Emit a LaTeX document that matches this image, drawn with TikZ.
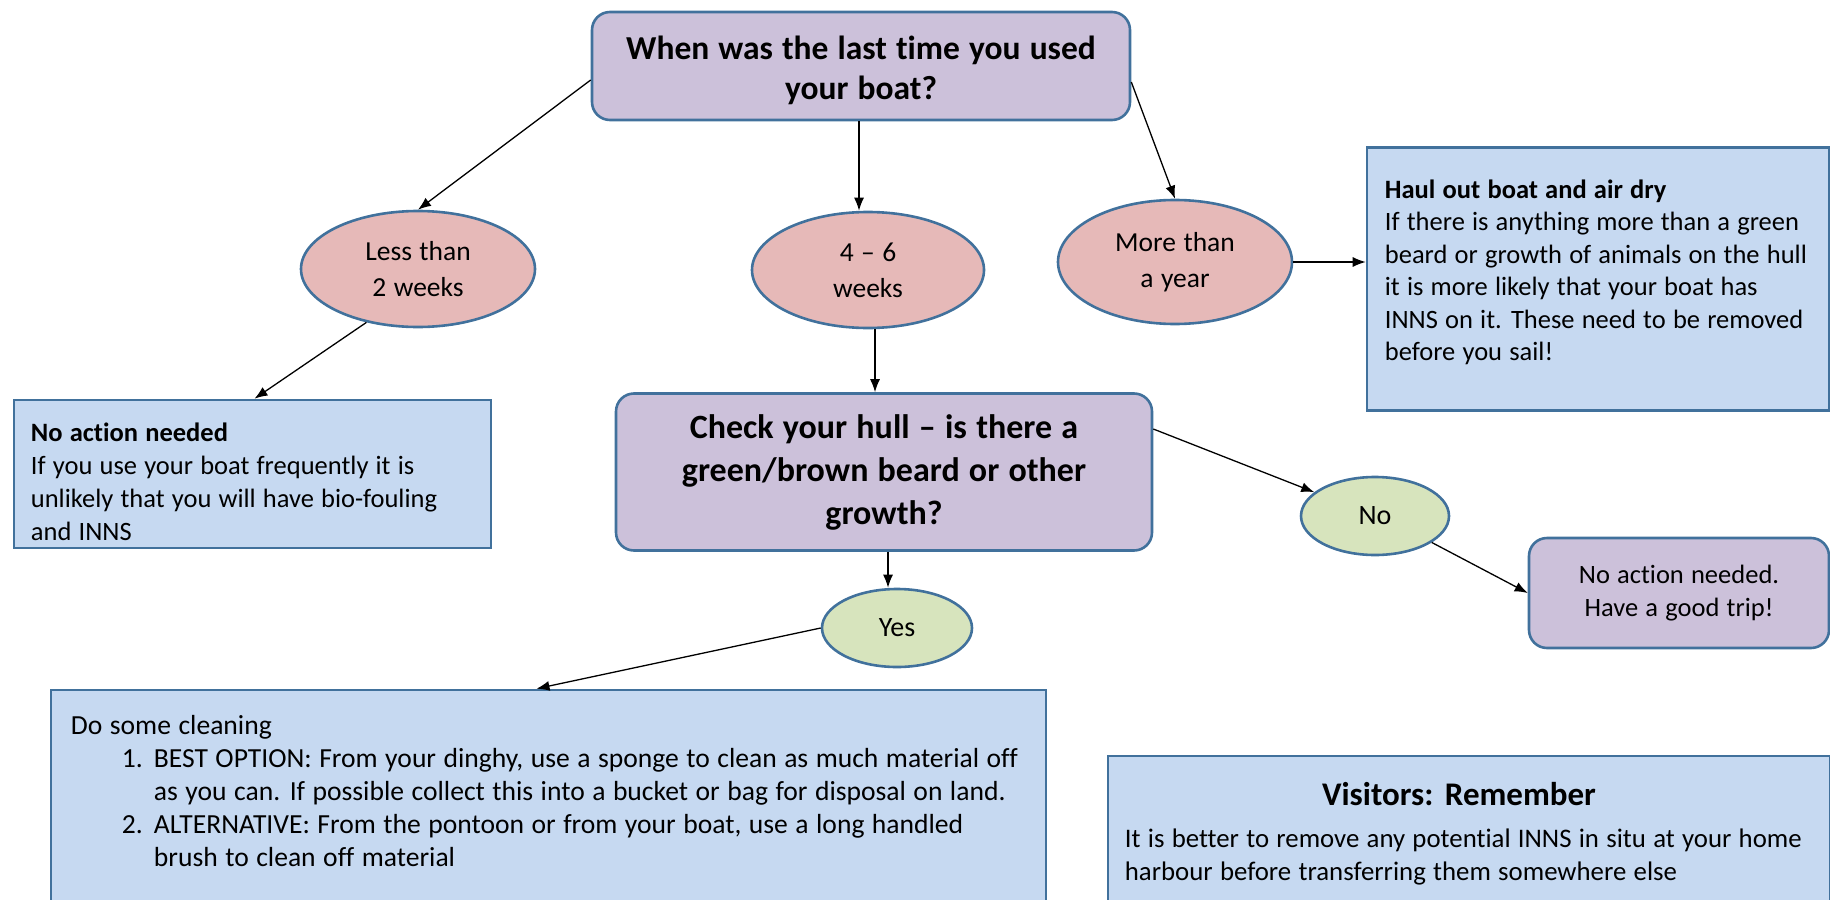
\documentclass[tikz,border=0pt]{standalone}
\usepackage{fontspec}
\setmainfont{Carlito}[Ligatures=NoCommon, WordSpace=1.2]
\usetikzlibrary{arrows.meta,shapes.geometric}
\definecolor{bordc}{HTML}{41719C}
\definecolor{purpf}{HTML}{CCC1DA}
\definecolor{pinkf}{HTML}{E6B9B8}
\definecolor{bluef}{HTML}{C6D9F1}
\definecolor{greenf}{HTML}{D7E4BD}
\tikzset{
  arr/.style={-{Latex[length=13pt,width=10pt]}, line width=1.3pt, black},
  pbox/.style={draw=bordc, line width=2.6pt, fill=purpf, rounded corners=18pt, inner sep=0pt},
  bbox/.style={draw=bordc, line width=2.6pt, fill=bluef, inner sep=0pt},
  pell/.style={ellipse, draw=bordc, line width=2.6pt, fill=pinkf, inner sep=0pt, align=center, font=\fontsize{27.5}{36}\selectfont},
  gell/.style={ellipse, draw=bordc, line width=2.6pt, fill=greenf, inner sep=0pt, align=center, font=\fontsize{28}{34}\selectfont},
  btxt/.style={inner sep=0pt, align=left, font=\fontsize{26.5}{32.5}\selectfont},
}
\begin{document}
\begin{tikzpicture}[x=1pt,y=-1pt]
\useasboundingbox (0,0) rectangle (1830,899);

% boxes
\node[pbox, minimum width=538pt, minimum height=108pt] (top) at (861,66) {};
\node[inner sep=0pt, align=center, font=\fontsize{33.5}{40}\selectfont\bfseries] (topt)
  at ([yshift=-4pt]top.center) {When was the last time you used\\your boat?};
\node[pell, minimum width=234pt, minimum height=116pt] (less) at (418,269) {Less than\\2 weeks};
\node[pell, minimum width=232pt, minimum height=116pt] (sixw) at (868,270) {4 -- 6\\weeks};
\node[pell, minimum width=234pt, minimum height=124pt] (more) at (1175,262) {More than\\a year};
\node[bbox, minimum width=462pt, minimum height=263pt] (haul) at (1598,279) {};
\node[btxt, anchor=west] (hault) at ([xshift=19pt,yshift=6.5pt]haul.west)
  {\textbf{Haul out boat and air dry}\\If there is anything more than a green\\beard or growth of animals on the hull\\it is more likely that your boat has\\INNS on it. These need to be removed\\before you sail!};
\node[bbox, minimum width=477pt, minimum height=148pt] (noact) at (252.5,474) {};
\node[btxt, anchor=west, font=\fontsize{26.5}{33}\selectfont] (noactt) at ([xshift=18pt,yshift=-7.5pt]noact.west)
  {\textbf{No action needed}\\If you use your boat frequently it is\\unlikely that you will have bio-fouling\\and INNS};
\node[pbox, minimum width=536pt, minimum height=157pt, align=center,
  font=\fontsize{34}{43}\selectfont\bfseries] (check) at (884,472)
  {Check your hull -- is there a\\green/brown beard or other\\growth?};
\node[gell, minimum width=148pt, minimum height=78pt] (no) at (1375,516) {No};
\node[pbox, minimum width=300pt, minimum height=110pt, align=center,
  font=\fontsize{26.5}{33}\selectfont] (trip) at (1679,593)
  {No action needed.\\Have a good trip!};
\node[gell, minimum width=150pt, minimum height=78pt] (yes) at (897,628) {Yes};
\node[bbox, minimum width=995pt, minimum height=220pt] (clean) at (548.5,800) {};
\node[btxt, anchor=north west, font=\fontsize{27.6}{33.2}\selectfont] (cleant) at ([xshift=21pt,yshift=-26pt]clean.north west)
  {Do some cleaning\\
   \makebox[83pt][l]{\hspace*{51pt}1.}BEST OPTION: From your dinghy, use a sponge to clean as much material off\\
   \hspace*{83pt}as you can. If possible collect this into a bucket or bag for disposal on land.\\
   \makebox[83pt][l]{\hspace*{51pt}2.}ALTERNATIVE: From the pontoon or from your boat, use a long handled\\
   \hspace*{83pt}brush to clean off material};
\node[bbox, minimum width=722pt, minimum height=152pt] (vis) at (1469,832) {};
\node[inner sep=0pt, anchor=north, font=\fontsize{33}{38}\selectfont\bfseries] (vist) at ([xshift=-10pt,yshift=-27pt]vis.north) {Visitors: Remember};
\node[btxt, anchor=north west, font=\fontsize{26.8}{33}\selectfont] (visb) at ([xshift=18pt,yshift=-74pt]vis.north west)
  {It is better to remove any potential INNS in situ at your home\\harbour before transferring them somewhere else};

% connectors
\draw[arr] ([yshift=-14pt]top.west) -- (less.north);
\draw[arr] ([xshift=-2pt]top.south) -- ([xshift=-2pt]top.south |- sixw.north);
\draw[arr] ([yshift=-16pt]top.east) -- (more.north);
\draw[arr] (more.east) -- (more.east -| haul.west);
\draw[arr] (less.226) -- ([xshift=2pt]noact.north);
\draw[arr] ([xshift=7pt]sixw.south) -- ([xshift=7pt]sixw.south |- check.north);
\draw[arr] ([yshift=43pt]check.east) -- (no);
\draw[arr] (no.-25) -- (trip.west);
\draw[arr] ([xshift=4pt]check.south) -- ([xshift=4pt]check.south |- yes.north);
\draw[arr] (yes.west) -- ([xshift=-12pt]clean.north);
\end{tikzpicture}
\end{document}
